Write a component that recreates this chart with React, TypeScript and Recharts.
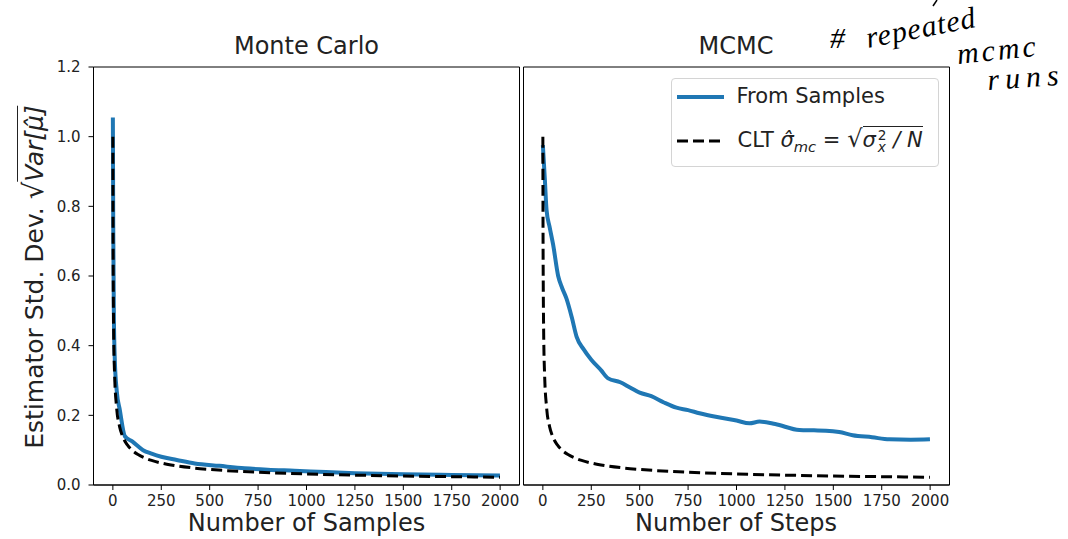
import React from 'react';
import { LineChart, Line, XAxis, YAxis, ReferenceArea } from 'recharts';

// x ticks / y ticks shared by both panels
const xTicks = [0, 250, 500, 750, 1000, 1250, 1500, 1750, 2000];
const yTicks = [0, 0.2, 0.4, 0.6, 0.8, 1.0, 1.2];

// CLT reference curve (same in both panels)
const cltSteps = [0, 1, 2, 4, 9, 19, 35, 50, 75, 100, 130, 160, 200, 250, 300, 400, 500, 750, 1000, 1250, 1500, 1750, 1999];
const cltStd = [1.0, 0.707, 0.577, 0.447, 0.316, 0.224, 0.167, 0.14, 0.115, 0.0995, 0.0874, 0.0788, 0.0705, 0.0631, 0.0576, 0.0499, 0.0447, 0.0365, 0.0316, 0.0283, 0.0258, 0.0239, 0.0224];

// Monte Carlo: std dev measured from samples
const mcSteps = [0, 2, 5, 10, 20, 36, 62, 100, 156, 200, 250, 330, 423, 550, 680, 800, 938, 1100, 1250, 1500, 1750, 1999];
const mcStd = [1.055, 0.74, 0.5, 0.36, 0.27, 0.215, 0.14, 0.125, 0.1, 0.09, 0.081, 0.072, 0.062, 0.055, 0.048, 0.044, 0.041, 0.037, 0.034, 0.031, 0.029, 0.027];

// MCMC: std dev measured over repeated runs
const mcmcSteps = [0, 10, 19, 35, 53, 79, 100, 122, 150, 174, 210, 251, 300, 337, 400, 450, 500, 560, 625, 690, 750, 809, 900, 1000, 1067, 1119, 1200, 1325, 1400, 1462, 1530, 1600, 1700, 1789, 1900, 1999];
const mcmcStd = [0.976, 0.88, 0.79, 0.74, 0.69, 0.6, 0.565, 0.535, 0.48, 0.426, 0.39, 0.359, 0.33, 0.306, 0.295, 0.28, 0.265, 0.255, 0.237, 0.222, 0.215, 0.206, 0.195, 0.185, 0.177, 0.182, 0.175, 0.158, 0.157, 0.156, 0.152, 0.143, 0.137, 0.131, 0.13, 0.131];

const toRows = (xs: number[], ys: number[]) => xs.map((n, i) => ({ n, v: ys[i] }));

const FONT = 'DejaVu Sans';
const BLUE = '#1f77b4';
const tickStyle = { fontSize: 15, fill: '#222', fontFamily: FONT };

function LegendBox() {
  return (
    <div style={{ position: 'absolute', left: 670.5, top: 78, width: 268, height: 89, boxSizing: 'border-box', border: '1px solid #d4d4d4', borderRadius: 4, background: 'rgba(255,255,255,0.8)', fontFamily: FONT, fontSize: 21, color: '#222' }}>
      <svg width={50} height={10} style={{ position: 'absolute', left: 5, top: 13 }}>
        <line x1={0} x2={47} y1={5} y2={5} stroke={BLUE} strokeWidth={4} />
      </svg>
      <div style={{ position: 'absolute', left: 65, top: 5, whiteSpace: 'nowrap' }}>From Samples</div>
      <svg width={50} height={10} style={{ position: 'absolute', left: 5, top: 57 }}>
        <line x1={0} x2={45} y1={5} y2={5} stroke="#000" strokeWidth={3} strokeDasharray="11 5" />
      </svg>
      <div style={{ position: 'absolute', left: 66, top: 46, whiteSpace: 'nowrap' }}>
        CLT <i>σ̂</i><sub style={{ fontSize: '0.7em', fontStyle: 'italic' }}>mc</sub> = <span style={{ fontSize: '1.15em' }}>√</span>
        <span style={{ borderTop: '1.5px solid #222', paddingTop: 1 }}>
          <i>σ</i>
          <span style={{ display: 'inline-block', verticalAlign: 'middle', lineHeight: 0.9, fontSize: '0.65em', marginLeft: 2 }}>
            <span style={{ display: 'block' }}>2</span>
            <span style={{ display: 'block', fontStyle: 'italic' }}>x</span>
          </span>
          <i> / N</i>
        </span>
      </div>
    </div>
  );
}

function Panel({ rows, showYLabels }: { rows: { n: number; v: number }[]; showYLabels: boolean }) {
  return (
    <LineChart width={530} height={539} margin={{ top: 67, right: 10.5, bottom: 0, left: 0 }}>
      <XAxis
        dataKey="n"
        type="number"
        domain={[-100, 2100]}
        ticks={xTicks}
        allowDataOverflow
        height={54}
        tickSize={5}
        tickMargin={5}
        stroke="#000"
        tick={tickStyle}
      />
      <YAxis
        type="number"
        domain={[0, 1.2]}
        ticks={yTicks}
        width={93.5}
        tickSize={5}
        tickMargin={8}
        stroke="#000"
        tick={showYLabels ? tickStyle : false}
        tickFormatter={(v: number) => v.toFixed(1)}
      />
      <ReferenceArea x1={-100} x2={2100} y1={0} y2={1.2} fill="none" stroke="#000" strokeWidth={1} />
      <Line data={rows} dataKey="v" type="monotone" stroke={BLUE} strokeWidth={4} dot={false} isAnimationActive={false} name="From Samples" />
      <Line data={toRows(cltSteps, cltStd)} dataKey="v" type="monotone" stroke="#000" strokeWidth={3} strokeDasharray="11 5" dot={false} isAnimationActive={false} name="CLT" />
    </LineChart>
  );
}

const textBase: React.CSSProperties = { position: 'absolute', fontFamily: FONT, color: '#222', whiteSpace: 'nowrap', transform: 'translateX(-50%)' };

export default function App() {
  return (
    <div style={{ position: 'absolute', left: 0, top: 0, width: 1068, height: 539, background: '#fff', overflow: 'hidden' }}>
      <div style={{ position: 'absolute', left: 0, top: 0 }}>
        <Panel rows={toRows(mcSteps, mcStd)} showYLabels />
      </div>
      <div style={{ position: 'absolute', left: 430, top: 0 }}>
        <Panel rows={toRows(mcmcSteps, mcmcStd)} showYLabels={false} />
      </div>
      <LegendBox />

      <div style={{ ...textBase, left: 306.5, top: 32, fontSize: 24 }}>Monte Carlo</div>
      <div style={{ ...textBase, left: 736, top: 32, fontSize: 24 }}>MCMC</div>
      <div style={{ ...textBase, left: 306.5, top: 509, fontSize: 24 }}>Number of Samples</div>
      <div style={{ ...textBase, left: 736, top: 509, fontSize: 24 }}>Number of Steps</div>

      <div style={{ position: 'absolute', left: 33, top: 277, width: 0, height: 0 }}>
        <div style={{ position: 'absolute', left: 0, top: 0, transform: 'translate(-50%,-50%) rotate(-90deg)', fontFamily: FONT, fontSize: 25, color: '#222', whiteSpace: 'nowrap' }}>
          Estimator Std. Dev. <span style={{ fontSize: '1.1em' }}>√</span>
          <span style={{ borderTop: '1.5px solid #222', fontStyle: 'italic', paddingTop: 2 }}>Var[μ̂]</span>
        </div>
      </div>

      <svg width={1068} height={539} style={{ position: 'absolute', left: 0, top: 0, pointerEvents: 'none' }}>
        <path d="M937 0 L933 6" stroke="#000" strokeWidth={1.5} fill="none" />
        <g fontFamily="Liberation Serif" fontStyle="italic" fill="#000" fontSize={30} letterSpacing={1}>
          <text x={830} y={48}>#</text>
          <text x={868} y={48} transform="rotate(-11 868 48)">repeated</text>
          <text x={958} y={64} transform="rotate(-6 958 64)" letterSpacing={3}>mcmc</text>
          <text x={988} y={90} transform="rotate(-4 988 90)" letterSpacing={6}>runs</text>
        </g>
      </svg>
    </div>
  );
}
